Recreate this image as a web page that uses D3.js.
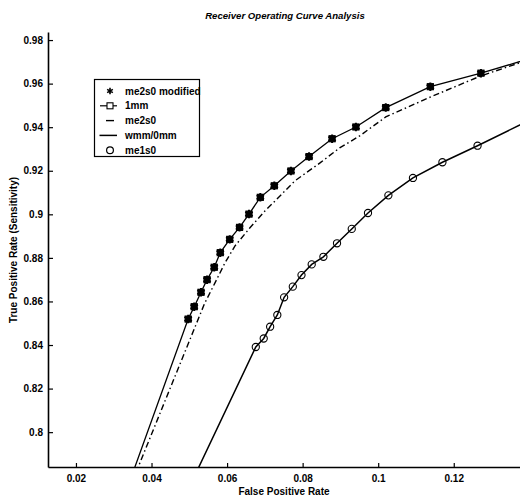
<!DOCTYPE html>
<html>
<head>
<meta charset="utf-8">
<script src="https://cdn.jsdelivr.net/npm/d3@7"></script>
<style>
  html, body { margin: 0; padding: 0; background: #fff; }
  svg { display: block; }
  text { font-family: "Liberation Sans", Arial, sans-serif; fill: #000; }
</style>
</head>
<body>
<svg id="chart" width="520" height="498"></svg>
<script>
// ---- data ----
const xTicks = [0.02, 0.04, 0.06, 0.08, 0.1, 0.12];
const xTickLabels = ["0.02", "0.04", "0.06", "0.08", "0.1", "0.12"];
const yTicks = [0.8, 0.82, 0.84, 0.86, 0.88, 0.9, 0.92, 0.94, 0.96, 0.98];
const yTickLabels = ["0.8", "0.82", "0.84", "0.86", "0.88", "0.9", "0.92", "0.94", "0.96", "0.98"];

// me2s0 modified (asterisk markers)
const modFPR = [0.0497, 0.0513, 0.0531, 0.0547, 0.0566, 0.0582, 0.0607, 0.0633, 0.0658, 0.0688, 0.0725, 0.0769, 0.0817, 0.0878, 0.0941, 0.1020, 0.1138, 0.1272];
const modTPR = [0.8519, 0.8576, 0.8642, 0.8700, 0.8757, 0.8824, 0.8885, 0.8940, 0.9001, 0.9078, 0.9131, 0.9199, 0.9265, 0.9347, 0.9401, 0.9490, 0.9586, 0.9648];

// 1mm (solid line with square markers)
const mm1FPR = [0.0327, 0.0497, 0.0513, 0.0531, 0.0547, 0.0566, 0.0582, 0.0607, 0.0633, 0.0658, 0.0688, 0.0725, 0.0769, 0.0817, 0.0878, 0.0941, 0.1020, 0.1138, 0.1272, 0.1450];
const mm1TPR = [0.7700, 0.8519, 0.8576, 0.8642, 0.8700, 0.8757, 0.8824, 0.8885, 0.8940, 0.9001, 0.9078, 0.9131, 0.9199, 0.9265, 0.9347, 0.9401, 0.9490, 0.9586, 0.9648, 0.9740];

// me2s0 (dash-dot line)
const me2FPR = [0.0332, 0.0515, 0.0541, 0.0568, 0.0594, 0.0621, 0.0660, 0.0700, 0.0740, 0.0779, 0.0846, 0.0898, 0.0951, 0.1020, 0.1139, 0.1271, 0.1450];
const me2TPR = [0.7700, 0.8482, 0.8593, 0.8685, 0.8776, 0.8855, 0.8937, 0.9015, 0.9084, 0.9153, 0.9236, 0.9305, 0.9360, 0.9447, 0.9539, 0.9635, 0.9740];

// wmm/0mm (solid line)
const wmmFPR = [0.0487, 0.0676, 0.0697, 0.0714, 0.0733, 0.0751, 0.0774, 0.0797, 0.0824, 0.0855, 0.0891, 0.0930, 0.0973, 0.1027, 0.1092, 0.1170, 0.1263, 0.1450];
const wmmTPR = [0.7700, 0.8391, 0.8430, 0.8484, 0.8538, 0.8619, 0.8668, 0.8721, 0.8770, 0.8805, 0.8867, 0.8933, 0.9006, 0.9087, 0.9167, 0.9239, 0.9315, 0.9474];

// me1s0 (circle markers)
const me1FPR = [0.0676, 0.0697, 0.0714, 0.0733, 0.0751, 0.0774, 0.0797, 0.0824, 0.0855, 0.0891, 0.0930, 0.0973, 0.1027, 0.1092, 0.1170, 0.1263];
const me1TPR = [0.8391, 0.8430, 0.8484, 0.8538, 0.8619, 0.8668, 0.8721, 0.8770, 0.8805, 0.8867, 0.8933, 0.9006, 0.9087, 0.9167, 0.9239, 0.9315];

const legendLabels = ["me2s0 modified", "1mm", "me2s0", "wmm/0mm", "me1s0"];

// ---- layout ----
const svg = d3.select("#chart");
const L = 48, T = 32, R = 521, B = 467;
const x = d3.scaleLinear().domain([0.0126, 0.1378]).range([L, R]);
const y = d3.scaleLinear().domain([0.784, 0.9837]).range([B, T]);

const zip = (a, b) => a.map((v, i) => [v, b[i]]);

svg.append("defs").append("clipPath").attr("id", "plot")
  .append("rect").attr("x", L).attr("y", T).attr("width", R - L).attr("height", B - T);

const g = svg.append("g").attr("clip-path", "url(#plot)");
const line = d3.line().x(d => x(d[0])).y(d => y(d[1]));

// lines
g.append("path").datum(zip(me2FPR, me2TPR)).attr("d", line)
  .attr("fill", "none").attr("stroke", "#000").attr("stroke-width", 1.4)
  .attr("stroke-dasharray", "6,3,1.5,3");
g.append("path").datum(zip(mm1FPR, mm1TPR)).attr("d", line)
  .attr("fill", "none").attr("stroke", "#000").attr("stroke-width", 1.3);
g.append("path").datum(zip(wmmFPR, wmmTPR)).attr("d", line)
  .attr("fill", "none").attr("stroke", "#000").attr("stroke-width", 1.5);

// square markers (1mm)
g.selectAll("rect.sq").data(zip(mm1FPR, mm1TPR)).join("rect").attr("class", "sq")
  .attr("x", d => x(d[0]) - 3).attr("y", d => y(d[1]) - 3)
  .attr("width", 6).attr("height", 6)
  .attr("fill", "#000").attr("stroke", "#000").attr("stroke-width", 1.2);

// asterisk markers (me2s0 modified)
const star = d3.symbol().type(d3.symbolAsterisk).size(50);
g.selectAll("path.st").data(zip(modFPR, modTPR)).join("path").attr("class", "st")
  .attr("d", star).attr("transform", d => `translate(${x(d[0])},${y(d[1])})`)
  .attr("fill", "none").attr("stroke", "#000").attr("stroke-width", 2);

// circle markers (me1s0)
g.selectAll("circle.ci").data(zip(me1FPR, me1TPR)).join("circle").attr("class", "ci")
  .attr("cx", d => x(d[0])).attr("cy", d => y(d[1])).attr("r", 3.6)
  .attr("fill", "none").attr("stroke", "#000").attr("stroke-width", 1.1);

// ---- axes ----
const xAxis = d3.axisBottom(x).tickValues(xTicks).tickFormat((d, i) => xTickLabels[i])
  .tickSizeInner(-4).tickSizeOuter(0).tickPadding(8);
const yAxis = d3.axisLeft(y).tickValues(yTicks).tickFormat((d, i) => yTickLabels[i])
  .tickSizeInner(-5).tickSizeOuter(0).tickPadding(5);

const gx = svg.append("g").attr("transform", `translate(0,${B})`).call(xAxis);
const gy = svg.append("g").attr("transform", `translate(${L},0)`).call(yAxis);
[gx, gy].forEach(a => {
  a.select(".domain").attr("stroke", "#000").attr("stroke-width", 1.6);
  a.selectAll(".tick line").attr("stroke", "#000").attr("stroke-width", 1.2);
  a.selectAll(".tick text").attr("font-family", "Liberation Sans, Arial, sans-serif")
    .attr("font-size", 10).attr("font-weight", "bold").attr("fill", "#000");
});

// labels
svg.append("text").attr("x", 285).attr("y", 19).attr("text-anchor", "middle")
  .attr("font-size", 9.6).attr("font-weight", "bold").attr("font-style", "italic")
  .text("Receiver Operating Curve Analysis");
svg.append("text").attr("x", 284).attr("y", 495).attr("text-anchor", "middle")
  .attr("font-size", 10).attr("font-weight", "bold").text("False Positive Rate");
svg.append("text").attr("transform", "translate(17,250) rotate(-90)").attr("text-anchor", "middle")
  .attr("font-size", 10).attr("font-weight", "bold").text("True Positive Rate (Sensitivity)");

// ---- legend ----
const lg = svg.append("g");
lg.append("rect").attr("x", 94.5).attr("y", 79.5).attr("width", 105).attr("height", 77)
  .attr("fill", "#fff").attr("stroke", "#000").attr("stroke-width", 1.2);
const rowY = i => 91 + i * 14.8;
legendLabels.forEach((lab, i) => {
  lg.append("text").attr("x", 125).attr("y", rowY(i) + 3.5)
    .attr("font-size", 10).attr("font-weight", "bold").text(lab);
});
// me2s0 modified: asterisk only
lg.append("path").attr("d", d3.symbol().type(d3.symbolAsterisk).size(30))
  .attr("transform", `translate(110,${rowY(0)})`).attr("stroke", "#000").attr("stroke-width", 1.6);
// 1mm: line with square
lg.append("line").attr("x1", 100).attr("x2", 117).attr("y1", rowY(1)).attr("y2", rowY(1))
  .attr("stroke", "#000").attr("stroke-width", 1.2);
lg.append("rect").attr("x", 107).attr("y", rowY(1) - 3).attr("width", 6).attr("height", 6)
  .attr("fill", "#fff").attr("stroke", "#000").attr("stroke-width", 1.1);
// me2s0: dash-dot sample
lg.append("line").attr("x1", 106).attr("x2", 114).attr("y1", rowY(2)).attr("y2", rowY(2))
  .attr("stroke", "#000").attr("stroke-width", 1.4);
// wmm/0mm: solid line
lg.append("line").attr("x1", 99.5).attr("x2", 117).attr("y1", rowY(3)).attr("y2", rowY(3))
  .attr("stroke", "#000").attr("stroke-width", 1.5);
// me1s0: circle
lg.append("circle").attr("cx", 110).attr("cy", rowY(4)).attr("r", 3.4)
  .attr("fill", "none").attr("stroke", "#000").attr("stroke-width", 1.2);
</script>
</body>
</html>
